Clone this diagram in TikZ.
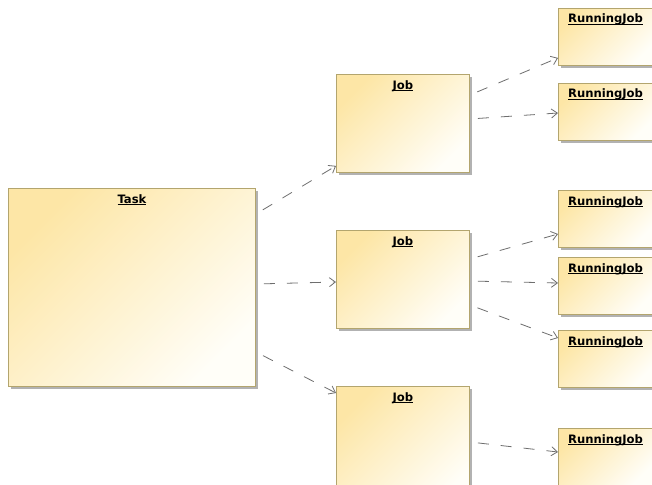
\documentclass[tikz,border=0pt]{standalone}
\usepackage{fontspec}
\newfontfamily\lblfont{DejaVu Sans}
\usetikzlibrary{arrows.meta,shadows,calc}
\definecolor{boxtop}{HTML}{FDE6A6}
\definecolor{boxbot}{HTML}{FFFEF8}
\definecolor{boxline}{HTML}{B3A56E}
\definecolor{conn}{HTML}{6E6E6E}
\tikzset{
  umlbox/.style={draw=boxline, line width=0.9pt, rectangle, anchor=north west, inner sep=0pt,
    top color=boxtop, bottom color=boxbot, shading angle=45,
    drop shadow={shadow xshift=3pt, shadow yshift=-3pt, fill=black!30, opacity=1}},
  lbl/.style={anchor=base, inner sep=0pt, font=\lblfont\bfseries\fontsize{11.6}{13}\selectfont},
  dep/.style={draw=conn, line width=0.8pt, dash pattern=on 11pt off 12pt, dash phase=15pt,
    -{Straight Barb[length=6pt,width=9pt]}}
}
\newcommand{\ulbl}[1]{\underline{\smash{#1}}}
\begin{document}
\begin{tikzpicture}[x=1pt,y=-1pt]
\useasboundingbox (0,0) rectangle (652,484);
\fill[white] (0,0) rectangle (652,484);
\clip (0,0) rectangle (652,484);
% boxes
\node[umlbox, minimum width=247pt, minimum height=198pt] (task) at (8,188) {};
\node[umlbox, minimum width=133pt, minimum height=98pt] (job1) at (336,74) {};
\node[umlbox, minimum width=133pt, minimum height=98pt] (job2) at (336,230) {};
\node[umlbox, minimum width=133pt, minimum height=120pt] (job3) at (336,386) {};
\node[umlbox, minimum width=96pt, minimum height=57pt] (rj1) at (558,8) {};
\node[umlbox, minimum width=96pt, minimum height=57pt] (rj2) at (558,83) {};
\node[umlbox, minimum width=96pt, minimum height=57pt] (rj3) at (558,190) {};
\node[umlbox, minimum width=96pt, minimum height=57pt] (rj4) at (558,257) {};
\node[umlbox, minimum width=96pt, minimum height=57pt] (rj5) at (558,330) {};
\node[umlbox, minimum width=96pt, minimum height=57pt] (rj6) at (558,428) {};
% labels
\node[lbl] (ltask) at ($(task.north)+(0,15)$) {\ulbl{Task}};
\node[lbl] (ljob1) at ($(job1.north)+(0,15)$) {\ulbl{Job}};
\node[lbl] (ljob2) at ($(job2.north)+(0,15)$) {\ulbl{Job}};
\node[lbl] (ljob3) at ($(job3.north)+(0,15)$) {\ulbl{Job}};
\foreach \r in {rj1,rj2,rj3,rj4,rj5,rj6}
  \node[lbl] (l\r) at ($(\r.north west)+(47.5,15)$) {\ulbl{RunningJob}};
% connectors
\draw[dep] ($(task.north east)+(0,26)$) -- ($(job1.south west)+(0,-7)$);
\draw[dep] ($(task.north east)+(0,96)$) -- ($(job2.north west)+(0,52)$);
\draw[dep] ($(task.north east)+(0,164)$) -- ($(job3.north west)+(0,7)$);
\draw[dep] ($(job1.north east)+(0,21)$) -- ($(rj1.south west)+(0,-8)$);
\draw[dep] ($(job1.north east)+(0,45)$) -- ($(rj2.north west)+(0,30)$);
\draw[dep] ($(job2.north east)+(0,29)$) -- ($(rj3.north west)+(0,44)$);
\draw[dep] ($(job2.north east)+(0,51)$) -- ($(rj4.north west)+(0,26)$);
\draw[dep] ($(job2.north east)+(0,75)$) -- ($(rj5.north west)+(0,8)$);
\draw[dep] ($(job3.north east)+(0,56)$) -- ($(rj6.north west)+(0,24)$);
\end{tikzpicture}
\end{document}
